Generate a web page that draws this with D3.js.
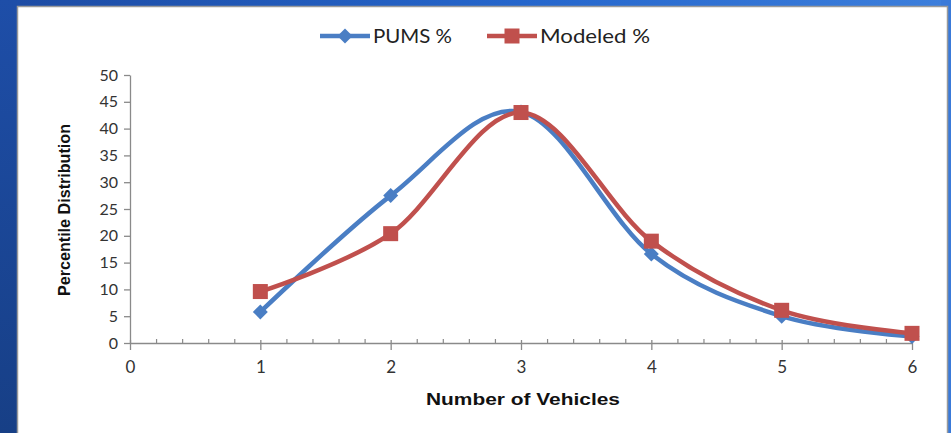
<!DOCTYPE html>
<html>
<head>
<meta charset="utf-8">
<script src="https://cdn.jsdelivr.net/npm/d3@7"></script>
<style>
  html, body { margin: 0; padding: 0; background: #fff; }
  svg { display: block; }
</style>
</head>
<body>
<svg id="chart" width="951" height="433"></svg>
<script>
// Vehicle ownership distribution: survey (PUMS) vs. model output
const vehicles = [1, 2, 3, 4, 5, 6];
const pumsPct = [5.8, 27.5, 43.1, 16.6, 5.0, 1.2];
const modeledPct = [9.6, 20.4, 43.0, 19.0, 6.1, 1.8];
const seriesNames = ["PUMS %", "Modeled %"];
const xTicks = [0, 1, 2, 3, 4, 5, 6];
const yTicks = [0, 5, 10, 15, 20, 25, 30, 35, 40, 45, 50];

const W = 951, H = 433;
const svg = d3.select("#chart");
const defs = svg.append("defs");

// Frame gradients
const gTop = defs.append("linearGradient").attr("id", "gTop")
  .attr("x1", "0").attr("x2", "1").attr("y1", "0").attr("y2", "0");
gTop.append("stop").attr("offset", "0").attr("stop-color", "#1d4ba3");
gTop.append("stop").attr("offset", "0.55").attr("stop-color", "#2566cc");
gTop.append("stop").attr("offset", "1").attr("stop-color", "#3d7fdc");
const gLeft = defs.append("linearGradient").attr("id", "gLeft")
  .attr("x1", "0").attr("x2", "0").attr("y1", "0").attr("y2", "1");
gLeft.append("stop").attr("offset", "0").attr("stop-color", "#1e4ea8");
gLeft.append("stop").attr("offset", "1").attr("stop-color", "#173f86");

svg.append("rect").attr("x", 0).attr("y", 0).attr("width", W).attr("height", H).attr("fill", "url(#gTop)");
svg.append("rect").attr("x", 0).attr("y", 0).attr("width", 20).attr("height", H).attr("fill", "url(#gLeft)");
svg.append("rect").attr("x", 941).attr("y", 0).attr("width", 10).attr("height", H).attr("fill", "#3a7ad9");
// White chart panel with thin grey edge
svg.append("rect").attr("x", 17.5).attr("y", 6.5).attr("width", 930).attr("height", 440)
  .attr("fill", "#ffffff").attr("stroke", "#9a9a9a").attr("stroke-width", 1.5);

const x = d3.scaleLinear().domain([0, 6]).range([130, 912]);
const y = d3.scaleLinear().domain([0, 50]).range([343, 75]);

const axisColor = "#8a8a8a";
const labelFont = "Lato, 'Open Sans', sans-serif";
const narrowFont = "'Liberation Sans Narrow', 'Liberation Sans', Arial, sans-serif";

// Y axis
const yAxis = svg.append("g").attr("transform", `translate(${x(0)},0)`)
  .call(d3.axisLeft(y).tickValues(yTicks).tickSize(6).tickPadding(6).tickSizeOuter(0));
yAxis.select(".domain").attr("stroke", axisColor).attr("stroke-width", 1.3);
yAxis.selectAll(".tick line").attr("stroke", axisColor).attr("stroke-width", 1.3);
yAxis.selectAll(".tick text").attr("fill", "#333").attr("font-size", 16).attr("font-family", labelFont);

// X axis: minor ticks every 0.2 on the inside, majors crossing the line
const minorVals = d3.range(0, 30).map(i => i / 5).filter(v => Math.abs(v - Math.round(v)) > 1e-6);
const xMinor = svg.append("g").attr("transform", `translate(0,${y(0)})`)
  .call(d3.axisTop(x).tickValues(minorVals).tickSize(4).tickFormat("").tickSizeOuter(0));
xMinor.select(".domain").remove();
xMinor.selectAll(".tick line").attr("stroke", axisColor).attr("stroke-width", 1.2);

const xAxis = svg.append("g").attr("transform", `translate(0,${y(0)})`)
  .call(d3.axisBottom(x).tickValues(xTicks).tickFormat(d3.format("d"))
    .tickSize(7).tickPadding(11).tickSizeOuter(0));
xAxis.select(".domain").attr("stroke", axisColor).attr("stroke-width", 1.3);
xAxis.selectAll(".tick line").attr("stroke", axisColor).attr("stroke-width", 1.3).attr("y1", -3);
xAxis.selectAll(".tick text").attr("fill", "#333").attr("font-size", 17).attr("font-family", labelFont);

// Axis titles
svg.append("text")
  .attr("transform", `translate(70,${(y(0) + y(50)) / 2 + 1}) rotate(-90)`)
  .attr("text-anchor", "middle")
  .attr("font-family", narrowFont)
  .attr("font-weight", "bold").attr("font-size", 17).attr("fill", "#111")
  .attr("textLength", 172).attr("lengthAdjust", "spacingAndGlyphs")
  .text("Percentile Distribution");
svg.append("text")
  .attr("x", 523).attr("y", 405)
  .attr("text-anchor", "middle")
  .attr("font-family", narrowFont)
  .attr("font-weight", "bold").attr("font-size", 17).attr("fill", "#111")
  .attr("textLength", 194).attr("lengthAdjust", "spacingAndGlyphs")
  .text("Number of Vehicles");

// Series
const blue = "#4a7ec4", red = "#c0504d";
const line = d3.line().x(d => x(d[0])).y(d => y(d[1])).curve(d3.curveCatmullRom.alpha(0));
const pumsPts = vehicles.map((v, i) => [v, pumsPct[i]]);
const modPts = vehicles.map((v, i) => [v, modeledPct[i]]);

svg.append("path").datum(pumsPts).attr("d", line)
  .attr("fill", "none").attr("stroke", blue).attr("stroke-width", 4.5).attr("stroke-linejoin", "round");
svg.append("path").datum(modPts).attr("d", line)
  .attr("fill", "none").attr("stroke", red).attr("stroke-width", 4.5).attr("stroke-linejoin", "round");

// Square diamond marker (rotated square)
const diamond = "M0,-7.5L7.5,0L0,7.5L-7.5,0Z";
svg.selectAll(".pums-mark").data(pumsPts).join("path")
  .attr("class", "pums-mark")
  .attr("transform", d => `translate(${x(d[0])},${y(d[1])})`)
  .attr("d", diamond).attr("fill", blue);

const sq = 15;
svg.selectAll(".mod-mark").data(modPts).join("rect")
  .attr("class", "mod-mark")
  .attr("x", d => x(d[0]) - sq / 2).attr("y", d => y(d[1]) - sq / 2)
  .attr("width", sq).attr("height", sq).attr("fill", red);

// Legend
const legend = svg.append("g");
const legendItems = [
  { name: seriesNames[0], color: blue, x0: 320, shape: "diamond", len: 79 },
  { name: seriesNames[1], color: red, x0: 487, shape: "square", len: 110 }
];
const ly = 36;
legendItems.forEach(it => {
  legend.append("line").attr("x1", it.x0).attr("x2", it.x0 + 50).attr("y1", ly).attr("y2", ly)
    .attr("stroke", it.color).attr("stroke-width", 4.5);
  if (it.shape === "diamond") {
    legend.append("path").attr("transform", `translate(${it.x0 + 25},${ly})`)
      .attr("d", diamond).attr("fill", it.color);
  } else {
    legend.append("rect").attr("x", it.x0 + 25 - 7.5).attr("y", ly - 7.5)
      .attr("width", 15).attr("height", 15).attr("fill", it.color);
  }
  legend.append("text").attr("x", it.x0 + 53).attr("y", ly + 7)
    .attr("font-family", labelFont).attr("font-size", 20).attr("fill", "#222")
    .attr("textLength", it.len).attr("lengthAdjust", "spacingAndGlyphs")
    .text(it.name);
});
</script>
</body>
</html>
